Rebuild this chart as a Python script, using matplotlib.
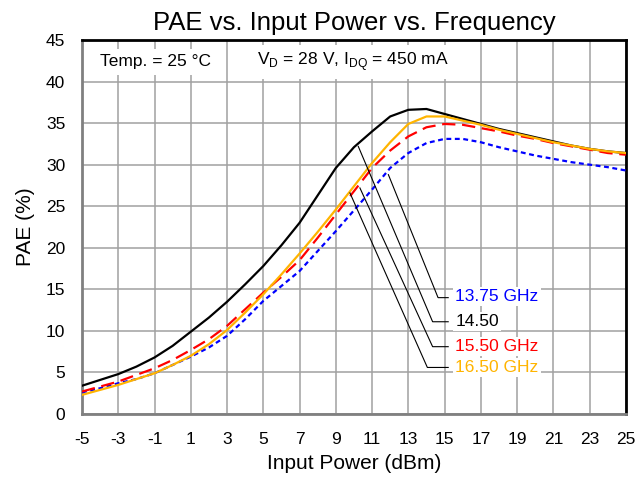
import numpy as np
import matplotlib
matplotlib.use('Agg')
import matplotlib.pyplot as plt

plt.rcParams['font.family'] = ['Liberation Sans', 'DejaVu Sans']
plt.rcParams['axes.unicode_minus'] = False

# input power (dBm)
pin = np.arange(-5, 26)

pae_1375 = [2.6, 3.1, 3.7, 4.2, 4.9, 5.9, 6.9, 8.0, 9.4, 11.4, 13.6, 15.4, 17.2, 19.6, 22.0, 24.5,
            27.0, 29.6, 31.4, 32.6, 33.1, 33.1, 32.7, 32.1, 31.6, 31.1, 30.7, 30.3, 30.0, 29.7, 29.3]
pae_1450 = [3.4, 4.1, 4.8, 5.7, 6.8, 8.2, 9.9, 11.6, 13.5, 15.6, 17.8, 20.3, 23.0, 26.3, 29.6, 32.1,
            34.0, 35.8, 36.6, 36.7, 36.1, 35.5, 34.9, 34.3, 33.8, 33.3, 32.8, 32.3, 31.9, 31.6, 31.4]
pae_1550 = [2.7, 3.3, 3.9, 4.7, 5.5, 6.5, 7.7, 9.0, 10.6, 12.6, 14.6, 16.5, 18.5, 21.2, 24.0, 26.8,
            29.6, 31.7, 33.4, 34.5, 34.9, 34.8, 34.4, 34.0, 33.5, 33.1, 32.6, 32.2, 31.8, 31.4, 31.2]
pae_1650 = [2.3, 2.9, 3.5, 4.2, 4.9, 5.9, 7.0, 8.4, 10.1, 12.2, 14.4, 16.8, 19.3, 21.9, 24.6, 27.4,
            30.2, 32.7, 34.9, 35.8, 35.8, 35.3, 34.8, 34.2, 33.7, 33.2, 32.7, 32.3, 31.9, 31.6, 31.4]

labels = ['13.75 GHz', '14.50', '15.50 GHz', '16.50 GHz']
colors = ['#0000FF', '#000000', '#FF0000', '#FFB400']

fig = plt.figure(figsize=(6.38, 4.78), dpi=100)
ax = fig.add_axes([0.1285, 0.1339, 0.8525, 0.7824])

ax.plot(pin, pae_1375, color=colors[0], lw=1.6, dashes=(2.2, 1.6), zorder=3)
ax.plot(pin, pae_1450, color=colors[1], lw=1.6, zorder=3)
ax.plot(pin, pae_1550, color=colors[2], lw=1.6, dashes=(6, 3), zorder=3)
ax.plot(pin, pae_1650, color=colors[3], lw=1.6, zorder=3)

ax.set_xlim(-5, 25)
ax.set_ylim(0, 45)
ax.set_xticks(np.arange(-5, 26, 2))
ax.set_yticks(np.arange(0, 46, 5))
ax.grid(True, color='#a0a0a0', lw=1.1)
ax.tick_params(length=0, labelsize=12.5)
ax.tick_params(axis='x', pad=13)
ax.tick_params(axis='y', pad=12)
ax.set_axisbelow(True)

for s in ['left', 'bottom']:
    ax.spines[s].set_color('#808080')
    ax.spines[s].set_linewidth(2)
for s in ['top', 'right']:
    ax.spines[s].set_color('black')
    ax.spines[s].set_linewidth(2)

ax.set_title('PAE vs. Input Power vs. Frequency', fontsize=18.5, pad=7)
ax.set_xlabel('Input Power (dBm)', fontsize=15, labelpad=5)
ax.set_ylabel('PAE (%)', fontsize=15, labelpad=8)

# leader lines: start on curve, kink, label
starts = [(11.9, 28.8), (10.24, 32.2), (10.33, 27.2), (9.78, 26.6)]
kinks = [(14.64, 14.0), (14.34, 11.1), (14.34, 8.1), (14.05, 5.6)]
label_y = [14.1, 11.1, 8.1, 5.6]
for lab, c, st, kn, ly in zip(labels, colors, starts, kinks, label_y):
    ax.plot([st[0], kn[0], 15.2], [st[1], kn[1], kn[1]], color='black', lw=0.8, zorder=4)
    ax.text(15.6, ly, lab, color=c, fontsize=12.5, va='center', ha='left', zorder=5,
            bbox=dict(facecolor='white', edgecolor='none', pad=1.5))

ax.text(-4.0, 42.4, 'Temp. = 25 \u00b0C', fontsize=12.5, va='center', ha='left',
        bbox=dict(facecolor='white', edgecolor='none', pad=4))
ax.text(4.65, 42.4, r'V$_\mathregular{D}$ = 28 V, I$_\mathregular{DQ}$ = 450 mA', fontsize=12.5,
        va='center', ha='left', bbox=dict(facecolor='white', edgecolor='none', pad=4))

fig.savefig('out.png', dpi=100)
